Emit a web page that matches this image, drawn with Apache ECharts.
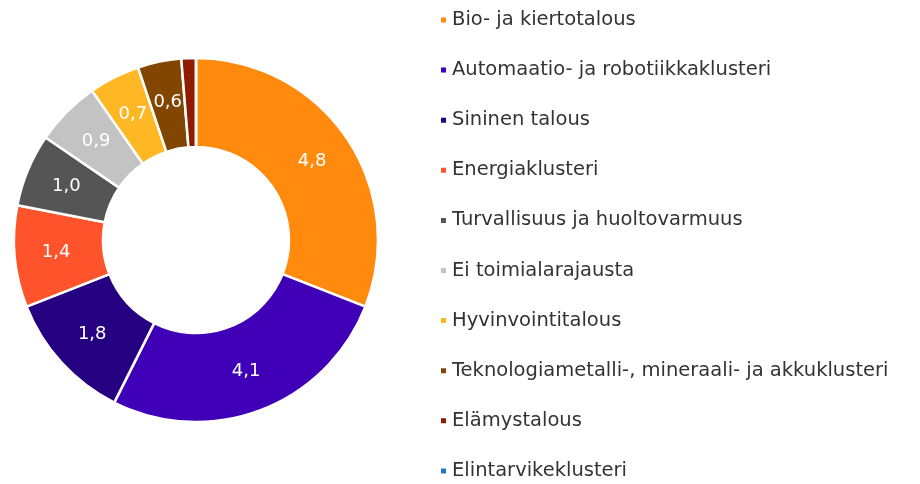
<!DOCTYPE html>
<html>
<head>
<meta charset="utf-8">
<script src="https://cdn.jsdelivr.net/npm/echarts@6/dist/echarts.min.js"></script>
<style>
  html, body { margin: 0; padding: 0; background: #fff; }
  #chart { width: 920px; height: 484px; }
</style>
</head>
<body>
<div id="chart"></div>
<script>
const categories = [
  'Bio- ja kiertotalous',
  'Automaatio- ja robotiikkaklusteri',
  'Sininen talous',
  'Energiaklusteri',
  'Turvallisuus ja huoltovarmuus',
  'Ei toimialarajausta',
  'Hyvinvointitalous',
  'Teknologiametalli-, mineraali- ja akkuklusteri',
  'Elämystalous',
  'Elintarvikeklusteri'
]
const values = [4.8, 4.1, 1.8, 1.4, 1.0, 0.9, 0.7, 0.6, 0.2, 0]
const colors = ['#ff8a0d', '#4000b8', '#250080', '#ff532b', '#555555', '#c3c3c3', '#ffb824', '#824600', '#8f1c00', '#1f78c8']

const chart = echarts.init(document.getElementById('chart'))
const font = '"DejaVu Sans", sans-serif'

const option = {
  color: colors,
  animation: false,
  legend: {
    orient: 'vertical',
    left: 439,
    top: 10,
    height: 474,
    padding: 0,
    icon: 'rect',
    itemWidth: 7,
    itemHeight: 7,
    itemGap: 30.1,
    selectedMode: false,
    textStyle: {
      fontFamily: font,
      fontSize: 19.5,
      lineHeight: 20,
      color: '#333333'
    },
    data: categories
  },
  series: [{
    type: 'pie',
    center: [196, 240],
    radius: [93, 182],
    startAngle: 90,
    clockwise: true,
    avoidLabelOverlap: false,
    itemStyle: {
      borderColor: '#ffffff',
      borderWidth: 2.5
    },
    label: {
      show: true,
      position: 'inside',
      color: '#ffffff',
      fontFamily: font,
      fontSize: 18,
      formatter: p => p.value >= 0.5 ? p.value.toFixed(1).replace('.', ',') : ''
    },
    labelLine: { show: false },
    emphasis: { disabled: true },
    data: categories.map((name, i) => ({ name, value: values[i] }))
  }]
}
chart.setOption(option)
</script>
</body>
</html>
